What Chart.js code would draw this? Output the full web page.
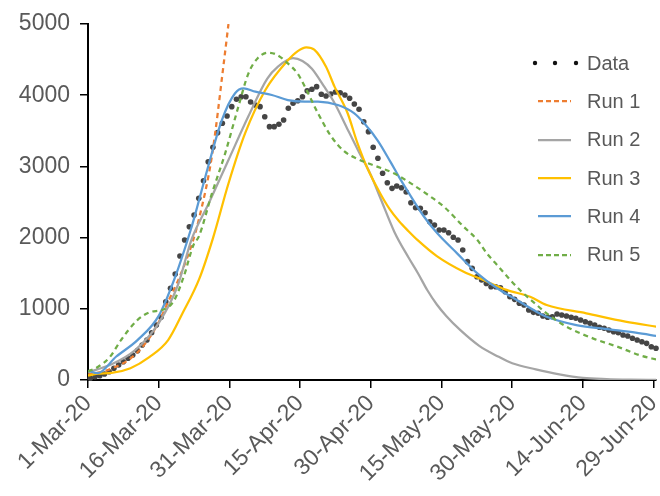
<!DOCTYPE html>
<html>
<head>
<meta charset="utf-8">
<script src="https://cdn.jsdelivr.net/npm/chart.js@4"></script>
<style>
	html, body { margin: 0; padding: 0; background: #fff; }
	#wrap { position: relative; width: 660px; height: 496px; }
	#legend { position: absolute; left: 531px; top: 44px; font: 20px 'Liberation Sans', Arial, sans-serif; color: #595959; }
	#legend .row { height: 38.3px; display: flex; align-items: center; }
	#legend svg { width: 56px; height: 12px; }
</style>
</head>
<body>
<div id="wrap">
	<canvas id="chart" width="660" height="496"></canvas>
	<div id="legend"></div>
</div>
<script>
(function () {
	'use strict';

	// Axis ticks (day index from 1-Mar-20).
	var xTickDays   = [0, 15, 30, 45, 60, 75, 90, 105, 120];
	var xTickLabels = ['1-Mar-20', '16-Mar-20', '31-Mar-20', '15-Apr-20', '30-Apr-20', '15-May-20', '30-May-20', '14-Jun-20', '29-Jun-20'];
	var yTicks      = [0, 1000, 2000, 3000, 4000, 5000];

	// Daily observed values, 1-Mar .. 29-Jun.
	var observed = [
		24, 46, 60, 84, 116, 164, 211, 257, 305, 351, 412, 492, 562, 664, 772, 880, 1099, 1288, 1489, 1742, 1966,
		2153, 2317, 2551, 2799, 3066, 3268, 3474, 3606, 3708, 3839, 3943, 3979, 3979, 3904, 3862, 3839, 3698, 3558, 3558, 3591, 3652, 3816, 3886, 3923, 3979, 4063,
		4083, 4120, 4013, 3989, 4017, 4045, 4035, 4003, 3957, 3876, 3802, 3628, 3488, 3268, 3114, 2903, 2771, 2692, 2725,
		2700, 2640, 2490, 2420, 2411, 2350, 2223, 2177, 2107, 2107, 2069, 2004, 1966, 1826, 1662, 1568, 1451, 1404, 1357, 1310, 1310, 1296, 1240, 1170, 1133, 1077, 1053, 983, 950,
		937, 899, 881, 889, 927, 913, 899, 881, 867, 843, 819, 796, 772, 740, 726, 702, 678, 664, 632, 618, 586, 562, 538, 515, 468, 445
	];

	// Model runs: [day, value].
	var run1 = [[0, 80], [3, 115], [6, 190], [9, 300], [12, 500], [15, 810], [17, 1100], [19, 1380], [22, 1900], [23.5, 2250], [26.3, 3150], [28.8, 4450], [29.8, 5000]];
	var run2 = [[0, 110], [5, 220], [10, 420], [15, 800], [19, 1320], [22, 1980], [25.6, 2480], [29.8, 3090], [34, 3700], [38, 4230], [40.3, 4400], [43.5, 4520], [45.5, 4480], [47.5, 4370], [50, 4130], [52.3, 3890], [55, 3530], [57.5, 3200], [60, 2880], [62, 2560], [65, 2080], [68, 1720], [70, 1500], [72, 1260], [74, 1060], [76, 900], [79, 700], [83, 480], [87, 330], [90, 235], [95, 150], [100, 80], [105, 30], [110, 12], [115, 4], [121, 0]];
	var run3 = [[0, 60], [2, 90], [5, 100], [9, 165], [13, 320], [17, 560], [20, 930], [23.6, 1420], [26.5, 1990], [29.8, 2760], [33.3, 3460], [37.6, 4070], [42.4, 4490], [44.5, 4620], [46.3, 4672], [48, 4640], [50.5, 4400], [52.3, 4120], [55, 3760], [57.2, 3320], [59.3, 2970], [62, 2620], [64, 2400], [66, 2230], [68, 2090], [70, 1960], [74, 1740], [79.7, 1520], [84, 1400], [88.8, 1265], [93.8, 1170], [97.3, 1053], [105.7, 937], [114, 820], [121, 745]];
	var run4 = [[0, 130], [2, 95], [6, 330], [10.5, 560], [15, 900], [18.4, 1430], [21.8, 2110], [22.8, 2340], [24.9, 2855], [28.4, 3650], [31.2, 4027], [33, 4096], [35.5, 4050], [39, 4003], [42.4, 3932], [46, 3910], [48.8, 3909], [53, 3862], [56.5, 3745], [58.6, 3605], [61.5, 3360], [64.2, 3060], [66, 2850], [68.5, 2580], [71.3, 2293], [74.1, 2060], [78.3, 1779], [82.6, 1498], [86.8, 1288], [91, 1124], [94.8, 973], [97.3, 889], [103.6, 772], [110.6, 712], [116.2, 664], [121, 615]];
	var run5 = [[0, 120], [2, 180], [4.6, 320], [7, 560], [10.3, 830], [13, 950], [16, 990], [18.2, 1110], [20.3, 1450], [22.4, 1900], [23.5, 2013], [26.3, 2622], [29.1, 3184], [31.9, 3839], [34, 4300], [36, 4520], [38.3, 4597], [40, 4570], [42.4, 4447], [44.5, 4300], [46, 4120], [48.8, 3745], [51.6, 3420], [54.4, 3210], [57, 3110], [60, 3030], [62, 2980], [65, 2900], [68.5, 2762], [72.7, 2574], [75.5, 2434], [79.7, 2153], [82.6, 1966], [84.6, 1779], [87, 1600], [89.6, 1404], [92, 1240], [94.8, 1077], [97.3, 937], [101.5, 749], [107.1, 585], [112.7, 459], [116.9, 351], [121, 280]];

	var FONT = "'Liberation Sans', Arial, sans-serif";
	var TXT  = '#595959';

	function pts(arr) {
		return arr.map(function (p) { return { x: p[0], y: p[1] }; });
	}

	function run(label, arr, color, dash, order) {
		return {
			label: label,
			data: pts(arr),
			borderColor: color,
			backgroundColor: color,
			borderWidth: 2.25,
			borderDash: dash,
			pointRadius: 0,
			cubicInterpolationMode: 'monotone',
			fill: false,
			order: order
		};
	}

	var series = [
		{
			label: 'Data',
			data: observed.map(function (v, i) { return { x: i + 0.5, y: v }; }),
			showLine: false,
			pointRadius: 2.8,
			pointBorderWidth: 0,
			pointBackgroundColor: '#454545',
			borderColor: '#454545',
			clip: false,
			order: 6
		},
		run('Run 1', run1, '#ED7D31', [5, 4], 5),
		run('Run 2', run2, '#A5A5A5', [], 4),
		run('Run 3', run3, '#FFC000', [], 3),
		run('Run 4', run4, '#5B9BD5', [], 2),
		run('Run 5', run5, '#70AD47', [5, 4], 1)
	];

	new Chart(document.getElementById('chart'), {
		type: 'line',
		data: { datasets: series },
		options: {
			responsive: false,
			animation: false,
			layout: { padding: { top: 24, right: 0, left: 0, bottom: 0 } },
			plugins: { legend: { display: false }, tooltip: { enabled: false } },
			scales: {
				x: {
					type: 'linear',
					min: 0,
					max: 120.5,
					afterBuildTicks: function (axis) {
						axis.ticks = xTickDays.map(function (d) { return { value: d }; });
					},
					afterFit: function (axis) {
						axis.height = 116;
						axis.paddingLeft = 0;
						axis.paddingRight = 0;
					},
					grid: { drawOnChartArea: false, color: '#000', lineWidth: 1.5, tickLength: 8 },
					border: { color: '#000', width: 2 },
					ticks: {
						autoSkip: false,
						maxRotation: 45,
						minRotation: 45,
						padding: 2,
						color: TXT,
						font: { family: FONT, size: 23 },
						callback: function (v) {
							var i = xTickDays.indexOf(v);
							return i < 0 ? '' : xTickLabels[i];
						}
					}
				},
				y: {
					min: 0,
					max: 5000,
					afterBuildTicks: function (axis) {
						axis.ticks = yTicks.map(function (v) { return { value: v }; });
					},
					afterFit: function (axis) { axis.width = 88; },
					grid: { drawOnChartArea: false, color: '#000', lineWidth: 1.5, tickLength: 8 },
					border: { color: '#000', width: 2 },
					ticks: {
						padding: 10,
						color: TXT,
						font: { family: FONT, size: 23 },
						callback: function (v) { return String(v); }
					}
				}
			}
		}
	});

	// Legend as html overlay.
	var legend = document.getElementById('legend');
	series.forEach(function (s) {
		var key;
		if (s.showLine === false) {
			key = '<svg viewBox="0 0 56 12"><circle cx="4" cy="6" r="2.2" fill="#111"/><circle cx="24" cy="6" r="2.2" fill="#111"/><circle cx="45" cy="6" r="2.2" fill="#111"/></svg>';
		} else {
			key = '<svg viewBox="0 0 56 12"><line x1="7" y1="6" x2="40" y2="6" stroke="' + s.borderColor + '" stroke-width="2.25"'
				+ (s.borderDash.length ? ' stroke-dasharray="5,3"' : '') + '/></svg>';
		}
		var row = document.createElement('div');
		row.className = 'row';
		row.innerHTML = key + '<span>' + s.label + '</span>';
		legend.appendChild(row);
	});
}());
</script>
</body>
</html>
